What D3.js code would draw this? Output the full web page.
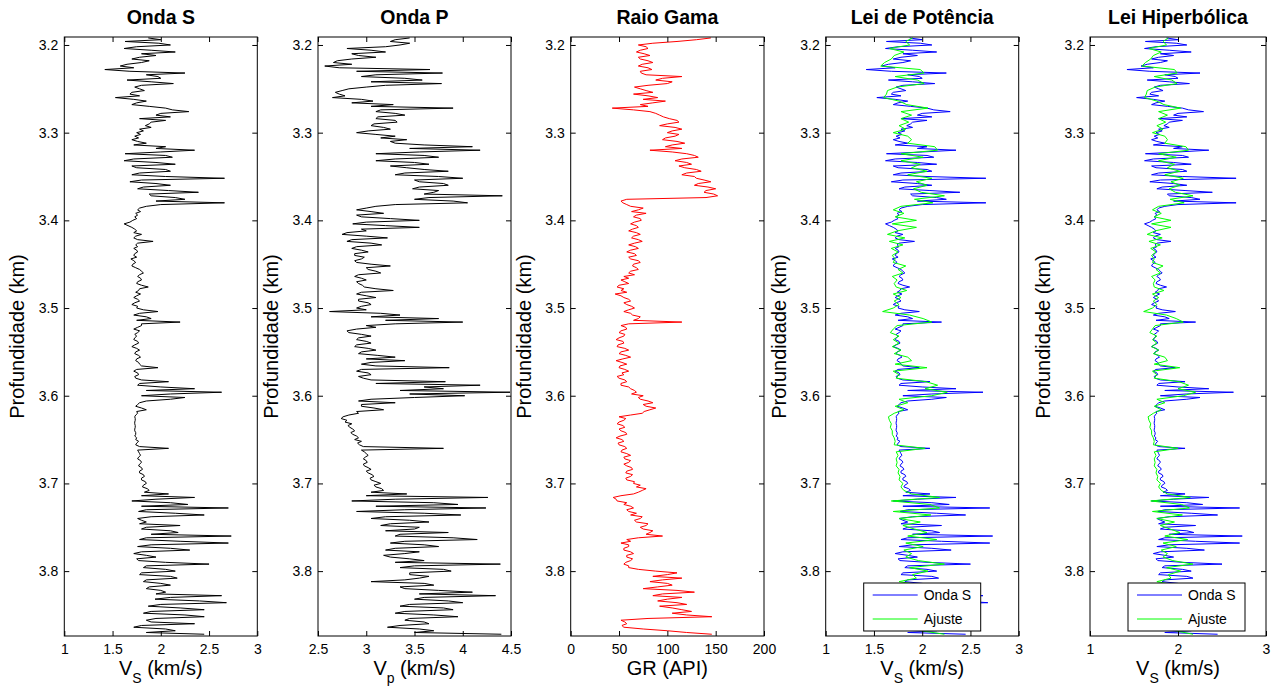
<!DOCTYPE html>
<html>
<head>
<meta charset="utf-8">
<script src="https://cdn.jsdelivr.net/npm/d3@7"></script>
<style>
  body { margin: 0; background: #fff; }
  text { font-family: "Liberation Sans", Arial, sans-serif; fill: #000; }
</style>
</head>
<body>
<svg id="chart" width="1274" height="692"></svg>
<script>
// first and last depth of the log samples (km), samples evenly spaced
var depthStart = 3.192;
var depthEnd = 3.872;

// Onda S (Vs, km/s)
var vsOnda = [
  1.87,2.00,1.63,1.98,2.10,1.75,1.62,1.90,2.15,1.80,1.95,1.78,1.70,1.88,1.80,1.65,1.58,1.72,1.42,1.68,
  2.25,1.85,1.97,2.00,1.65,1.90,2.13,1.80,1.73,1.78,1.83,1.70,1.68,1.78,1.53,1.72,1.85,1.75,1.70,1.88,
  2.05,2.12,2.29,2.00,1.95,2.10,1.78,2.05,1.90,1.88,1.84,1.90,1.78,1.82,1.75,1.79,1.73,1.77,1.70,1.76,
  1.85,1.72,2.05,1.95,2.35,2.00,1.63,2.05,2.12,1.72,1.62,1.95,2.15,1.70,1.75,2.05,2.10,1.78,1.70,2.05,
  2.66,1.80,1.68,1.95,2.10,1.82,1.76,2.08,2.39,1.88,1.90,2.15,2.25,1.95,2.66,2.00,1.85,1.78,1.76,1.79,
  1.74,1.76,1.73,1.75,1.71,1.68,1.62,1.66,1.70,1.73,1.75,1.72,1.80,1.74,1.72,1.76,1.92,1.76,1.74,1.76,
  1.72,1.75,1.76,1.73,1.72,1.75,1.69,1.72,1.74,1.71,1.70,1.74,1.78,1.80,1.82,1.78,1.76,1.79,1.80,1.76,
  1.75,1.80,1.87,1.78,1.77,1.74,1.79,1.75,1.72,1.76,1.78,1.73,1.70,1.76,1.75,1.82,1.97,1.78,1.72,1.85,
  1.90,1.75,2.20,1.80,1.80,1.76,1.72,1.78,1.76,1.73,
  1.75,1.73,1.72,1.76,1.77,1.73,1.70,1.75,1.78,1.74,1.73,1.77,1.79,1.75,1.74,1.77,1.78,1.80,1.97,1.75,
  1.72,1.76,1.77,1.73,1.74,1.80,2.08,1.78,1.76,2.00,2.35,1.85,2.63,2.10,1.80,2.25,2.10,1.85,1.78,1.76,
  1.74,1.80,1.85,1.75,1.76,1.74,1.73,1.735,1.735,1.73,1.73,1.735,1.735,1.73,1.73,1.74,1.74,1.73,1.75,1.74,
  1.77,1.75,1.74,1.78,2.08,1.76,1.77,1.78,1.79,1.77,1.76,1.79,1.80,1.78,1.77,1.80,1.81,1.78,1.78,1.82,
  1.83,1.80,1.80,1.84,1.85,1.82,1.81,1.86,1.88,1.83,2.08,1.80,2.35,1.95,1.70,2.10,2.28,1.80,2.70,1.85,
  1.77,2.15,2.45,1.90,1.76,1.80,1.85,1.78,2.20,1.85,1.80,2.10,2.18,1.90,2.73,1.85,1.78,2.20,2.70,1.90,
  1.76,2.10,2.30,1.80,1.72,1.85,1.95,1.75,1.77,2.05,2.50,1.85,1.82,2.05,2.15,1.80,1.78,2.10,2.17,1.85,
  1.82,2.00,2.10,1.88,1.85,2.00,2.05,1.95,2.63,2.10,1.94,2.40,2.68,2.00,1.87,2.20,2.45,1.90,1.82,2.25,
  2.45,1.95,1.85,1.90,2.35,1.80,1.72,2.05,2.15,1.85,2.45
];

// Onda P (Vp, km/s)
var vpOnda = [
  3.45,3.30,3.25,3.45,3.35,3.20,2.80,3.05,3.20,2.85,2.92,3.10,2.85,2.70,2.66,2.85,2.57,2.72,3.66,2.90,
  3.79,3.10,2.95,3.40,3.58,3.05,3.78,3.20,3.00,2.82,2.75,2.68,2.72,2.78,2.65,2.95,3.07,2.85,3.28,3.05,
  3.90,3.15,3.10,3.30,3.40,3.12,3.10,3.30,3.32,3.08,3.05,3.18,3.25,3.02,2.90,3.10,3.30,3.15,3.42,3.25,
  3.30,3.60,4.10,3.45,4.18,3.55,3.10,3.60,3.75,3.30,3.10,3.50,3.65,3.25,3.42,3.60,3.85,3.40,3.30,3.75,
  4.00,3.50,3.55,3.80,3.85,3.55,3.48,3.75,3.70,3.60,4.41,3.65,3.50,3.90,4.05,3.30,3.10,3.00,2.90,3.05,
  3.18,2.90,2.95,3.25,3.55,3.00,2.86,3.20,3.55,2.95,3.00,2.80,2.75,3.00,3.22,2.85,2.80,3.05,3.16,2.90,
  2.85,2.95,3.02,2.88,2.88,2.98,2.95,2.88,2.90,3.05,3.25,3.00,3.02,3.10,3.15,2.92,2.88,2.95,3.00,2.90,
  2.92,2.96,2.98,3.10,3.28,2.95,2.90,3.00,3.10,2.92,2.92,3.02,3.05,2.95,2.90,3.00,2.62,3.15,3.35,3.05,
  3.75,3.20,4.00,3.30,3.00,3.10,2.90,2.80,2.82,2.95,
  3.05,2.92,2.90,3.00,3.05,2.90,2.88,3.02,3.10,2.95,2.92,3.12,3.30,3.00,3.40,3.05,2.95,3.10,3.86,2.95,
  2.90,3.02,3.05,2.92,2.97,3.05,3.82,3.10,4.18,3.60,3.80,3.35,4.49,3.45,4.02,3.50,3.05,2.92,3.30,2.95,
  2.95,3.08,3.18,2.90,2.92,2.82,2.76,2.74,2.80,2.78,2.85,2.81,2.83,2.86,2.88,2.84,2.86,2.90,2.92,2.88,
  2.95,2.91,2.93,2.97,3.80,2.95,2.98,3.00,3.02,2.99,2.97,3.00,3.01,2.97,2.98,3.02,3.05,3.00,3.02,3.06,
  3.08,3.04,3.05,3.10,3.15,3.08,3.10,3.16,3.18,3.05,3.42,3.00,4.26,3.30,2.85,3.70,3.95,3.10,4.24,3.40,
  2.90,3.60,3.98,3.20,3.05,3.45,3.65,3.25,3.15,3.55,3.50,3.20,3.85,3.35,3.30,3.90,4.15,3.40,3.25,3.60,
  3.75,3.30,3.20,3.55,3.40,3.18,3.25,3.45,3.60,3.30,4.39,3.50,3.35,3.80,3.88,3.45,3.45,3.65,3.55,3.40,
  3.05,3.60,3.70,3.35,3.40,3.75,4.10,3.55,4.34,3.60,3.50,3.85,4.00,3.45,3.35,3.80,3.90,3.40,3.30,3.70,
  3.95,3.45,3.40,3.60,3.65,3.35,3.22,3.55,3.70,3.50,4.40
];

// Raio Gama (GR, API)
var grRaio = [
  145,130,110,85,70,78,80,72,68,76,82,70,72,80,85,74,70,80,84,72,
  73,78,115,95,88,105,100,80,66,72,78,85,65,80,90,75,98,85,72,80,
  43,65,82,88,92,96,102,110,112,100,92,108,115,105,100,112,108,98,95,110,
  118,105,98,115,82,105,120,128,132,115,108,120,125,112,118,130,135,120,115,128,
  130,138,145,132,128,142,150,140,138,148,152,140,58,52,54,58,62,75,70,63,
  78,68,65,72,73,66,62,68,70,64,60,68,72,65,63,70,74,66,60,67,
  70,62,58,66,68,60,62,70,72,65,64,68,70,62,60,66,55,60,52,56,
  60,50,48,55,52,58,46,52,55,60,62,55,58,63,66,60,55,62,64,72,
  70,65,115,60,52,57,58,52,50,56,55,50,47,54,55,49,48,56,60,52,
  50,57,62,54,47,53,58,51,50,56,60,53,55,48,50,56,58,52,52,60,
  62,66,68,63,75,70,72,80,85,75,78,88,82,76,74,62,50,57,55,50,
  48,54,56,50,52,57,58,51,47,53,55,49,50,56,58,53,52,58,62,55,
  56,62,60,55,58,63,64,58,57,64,62,57,58,66,65,72,68,78,74,70,
  65,52,44,47,48,58,55,62,65,58,60,68,62,74,72,66,68,80,78,72,
  75,85,82,78,95,70,58,62,52,60,60,55,55,62,65,58,58,64,62,57,
  55,60,60,70,88,110,100,85,115,95,82,100,105,90,75,110,128,95,85,115,
  100,90,110,120,92,105,115,125,105,120,146,80,52,56,58,53,55,75,100,120,
  146
];

// Ajuste - Lei de Potência (Vs, km/s)
var ajustePot = [
  1.90,1.83,1.87,1.66,1.81,1.71,1.68,1.61,1.57,1.98,
  2.02,1.72,1.95,2.02,1.74,1.64,1.63,1.60,1.76,1.84,
  2.06,1.78,1.89,1.78,1.86,1.76,1.83,1.70,1.85,1.89,
  1.85,2.13,2.16,1.78,2.01,1.78,1.98,1.89,2.05,1.85,
  2.10,1.94,2.05,1.91,1.99,2.23,1.92,2.11,1.78,1.70,
  1.81,1.72,1.94,1.69,1.94,1.74,1.64,1.82,1.66,1.80,
  1.68,1.75,1.69,1.72,1.70,1.83,1.75,1.80,1.69,1.74,
  1.71,1.73,1.84,1.70,1.78,1.71,1.76,1.70,1.59,1.87,
  2.01,2.10,1.74,1.70,1.67,
  1.76,1.70,1.76,1.69,1.78,1.71,1.85,1.89,1.72,2.05,
  1.70,1.76,1.73,2.04,2.16,2.03,2.26,2.10,1.76,1.85,
  1.72,1.81,1.71,1.65,1.66,1.68,1.67,1.69,1.69,1.71,
  1.72,1.71,2.03,1.73,1.75,1.73,1.74,1.73,1.76,1.75,
  1.77,1.76,1.80,1.78,1.81,1.89,2.18,1.68,2.08,2.18,
  1.70,2.09,1.76,1.98,1.80,1.92,2.05,1.85,2.15,1.83,
  2.01,1.81,1.89,1.83,1.96,2.23,1.87,2.06,1.90,1.94,
  1.76,1.99,1.89,2.13,2.21,1.92,2.10,1.87,2.06,1.85,
  2.08,1.89,1.98,1.82,1.99,2.23
];

// Ajuste - Lei Hiperbólica (Vs, km/s)
var ajusteHip = [
  1.89,1.83,1.87,1.67,1.81,1.72,1.69,1.63,1.59,1.96,
  1.99,1.73,1.93,1.99,1.74,1.65,1.64,1.62,1.76,1.84,
  2.03,1.78,1.88,1.78,1.86,1.76,1.83,1.71,1.85,1.88,
  1.85,2.09,2.12,1.78,1.98,1.78,1.96,1.88,2.02,1.85,
  2.06,1.92,2.02,1.90,1.97,2.17,1.91,2.07,1.78,1.71,
  1.81,1.73,1.92,1.70,1.92,1.74,1.65,1.82,1.67,1.80,
  1.69,1.75,1.70,1.73,1.71,1.83,1.75,1.80,1.70,1.74,
  1.72,1.73,1.84,1.71,1.78,1.72,1.76,1.71,1.61,1.87,
  1.98,2.06,1.74,1.71,1.68,
  1.76,1.71,1.76,1.70,1.78,1.72,1.85,1.88,1.73,2.02,
  1.71,1.76,1.73,2.01,2.12,2.00,2.20,2.06,1.76,1.85,
  1.73,1.81,1.72,1.66,1.67,1.69,1.68,1.70,1.70,1.72,
  1.73,1.72,2.00,1.73,1.75,1.73,1.74,1.73,1.76,1.75,
  1.77,1.76,1.80,1.78,1.81,1.88,2.14,1.69,2.04,2.13,
  1.71,2.05,1.76,1.96,1.80,1.91,2.02,1.85,2.11,1.83,
  1.98,1.81,1.88,1.83,1.94,2.17,1.87,2.03,1.89,1.92,
  1.76,1.97,1.88,2.09,2.16,1.91,2.06,1.87,2.03,1.85,
  2.04,1.88,1.96,1.82,1.97,2.17
];

// tick labels
var depthTicks = [3.2, 3.3, 3.4, 3.5, 3.6, 3.7, 3.8];
var vsTicks = [1, 1.5, 2, 2.5, 3];
var vsTicksNarrow = [1, 2, 3];
var vpTicks = [2.5, 3, 3.5, 4, 4.5];
var grTicks = [0, 50, 100, 150, 200];

var plotTop = 37, plotBottom = 636;

var svg = d3.select("#chart");

var yScale = d3.scaleLinear()
  .domain([3.1909, 3.874])
  .range([plotTop, plotBottom]);

function depthAt(i, n) {
  return depthStart + i * (depthEnd - depthStart) / (n - 1);
}

var panels = [
  { left: 64.3, right: 257.3, title: "Onda S", domain: [1, 3], ticks: vsTicks,
    xlabel: ["V", "S", " (km/s)"], series: [{ values: vsOnda, color: "#000000" }] },
  { left: 318, right: 511, title: "Onda P", domain: [2.5, 4.5], ticks: vpTicks,
    xlabel: ["V", "p", " (km/s)"], series: [{ values: vpOnda, color: "#000000" }] },
  { left: 570.7, right: 764, title: "Raio Gama", domain: [0, 200], ticks: grTicks,
    xlabel: ["GR (API)", "", ""], series: [{ values: grRaio, color: "#ff0000" }] },
  { left: 825.7, right: 1018.7, title: "Lei de Potência", domain: [1, 3], ticks: vsTicks,
    xlabel: ["V", "S", " (km/s)"],
    series: [{ values: vsOnda, color: "#0000ff", name: "Onda S" },
             { values: ajustePot, color: "#00ff00", name: "Ajuste" }], legend: true },
  { left: 1090, right: 1266, title: "Lei Hiperbólica", domain: [1, 3], ticks: vsTicksNarrow,
    xlabel: ["V", "S", " (km/s)"],
    series: [{ values: vsOnda, color: "#0000ff", name: "Onda S" },
             { values: ajusteHip, color: "#00ff00", name: "Ajuste" }], legend: true }
];

panels.forEach(function(p, pi) {
  var xScale = d3.scaleLinear().domain(p.domain).range([p.left, p.right]);
  var g = svg.append("g");

  g.append("clipPath").attr("id", "clip" + pi)
    .append("rect")
    .attr("x", p.left).attr("y", plotTop)
    .attr("width", p.right - p.left).attr("height", plotBottom - plotTop);

  // curves
  p.series.forEach(function(s) {
    var n = s.values.length;
    var line = d3.line()
      .x(d => xScale(d))
      .y((d, i) => yScale(depthAt(i, n)));
    g.append("path")
      .datum(s.values)
      .attr("clip-path", "url(#clip" + pi + ")")
      .attr("fill", "none")
      .attr("stroke", s.color)
      .attr("stroke-width", 1)
      .attr("d", line);
  });

  // axes with inward ticks
  var fmt = d => String(d);
  g.append("g")
    .attr("transform", `translate(0, ${plotBottom})`)
    .call(d3.axisBottom(xScale).tickValues(p.ticks).tickSizeInner(-5).tickSizeOuter(0).tickPadding(8).tickFormat(fmt))
    .call(a => a.select(".domain").remove());
  g.append("g")
    .attr("transform", `translate(0, ${plotTop})`)
    .call(d3.axisTop(xScale).tickValues(p.ticks).tickSizeInner(-5).tickSizeOuter(0).tickFormat(""))
    .call(a => a.select(".domain").remove());
  g.append("g")
    .attr("transform", `translate(${p.left}, 0)`)
    .call(d3.axisLeft(yScale).tickValues(depthTicks).tickSizeInner(-5).tickSizeOuter(0).tickPadding(6).tickFormat(fmt))
    .call(a => a.select(".domain").remove());
  g.append("g")
    .attr("transform", `translate(${p.right}, 0)`)
    .call(d3.axisRight(yScale).tickValues(depthTicks).tickSizeInner(-5).tickSizeOuter(0).tickFormat(""))
    .call(a => a.select(".domain").remove());

  g.selectAll(".tick text")
    .style("font-size", "14px")
    .style("font-family", '"Liberation Sans", Arial, sans-serif')
    .attr("fill", "#000");
  g.selectAll(".tick line").attr("stroke", "#000");

  // box
  g.append("rect")
    .attr("x", p.left).attr("y", plotTop)
    .attr("width", p.right - p.left).attr("height", plotBottom - plotTop)
    .attr("fill", "none").attr("stroke", "#000").attr("stroke-width", 1);

  var cx = (p.left + p.right) / 2;

  // title
  g.append("text")
    .attr("x", cx).attr("y", 24)
    .attr("text-anchor", "middle")
    .style("font-size", "19.5px")
    .style("font-weight", "bold")
    .text(p.title);

  // x label
  var xl = g.append("text")
    .attr("x", cx).attr("y", 675)
    .attr("text-anchor", "middle")
    .style("font-size", "20px");
  xl.append("tspan").text(p.xlabel[0]);
  if (p.xlabel[1]) {
    xl.append("tspan").attr("dy", 8).style("font-size", "14px").text(p.xlabel[1]);
    xl.append("tspan").attr("dy", -8).text(p.xlabel[2]);
  }

  // y label
  g.append("text")
    .attr("transform", `translate(${p.left - 40}, ${(plotTop + plotBottom) / 2}) rotate(-90)`)
    .attr("text-anchor", "middle")
    .style("font-size", "20px")
    .text("Profundidade (km)");

  // legend
  if (p.legend) {
    var lx = p.left + 38, ly = 583, lw = 117, lh = 48;
    var lg = g.append("g");
    lg.append("rect")
      .attr("x", lx).attr("y", ly).attr("width", lw).attr("height", lh)
      .attr("fill", "#fff").attr("stroke", "#000").attr("stroke-width", 1);
    p.series.forEach(function(s, si) {
      var yy = ly + 12 + si * 24;
      lg.append("line")
        .attr("x1", lx + 9).attr("x2", lx + 54)
        .attr("y1", yy).attr("y2", yy)
        .attr("stroke", s.color).attr("stroke-width", 1);
      lg.append("text")
        .attr("x", lx + 60).attr("y", yy + 5)
        .style("font-size", "14px")
        .text(s.name);
    });
  }
});
</script>
</body>
</html>
